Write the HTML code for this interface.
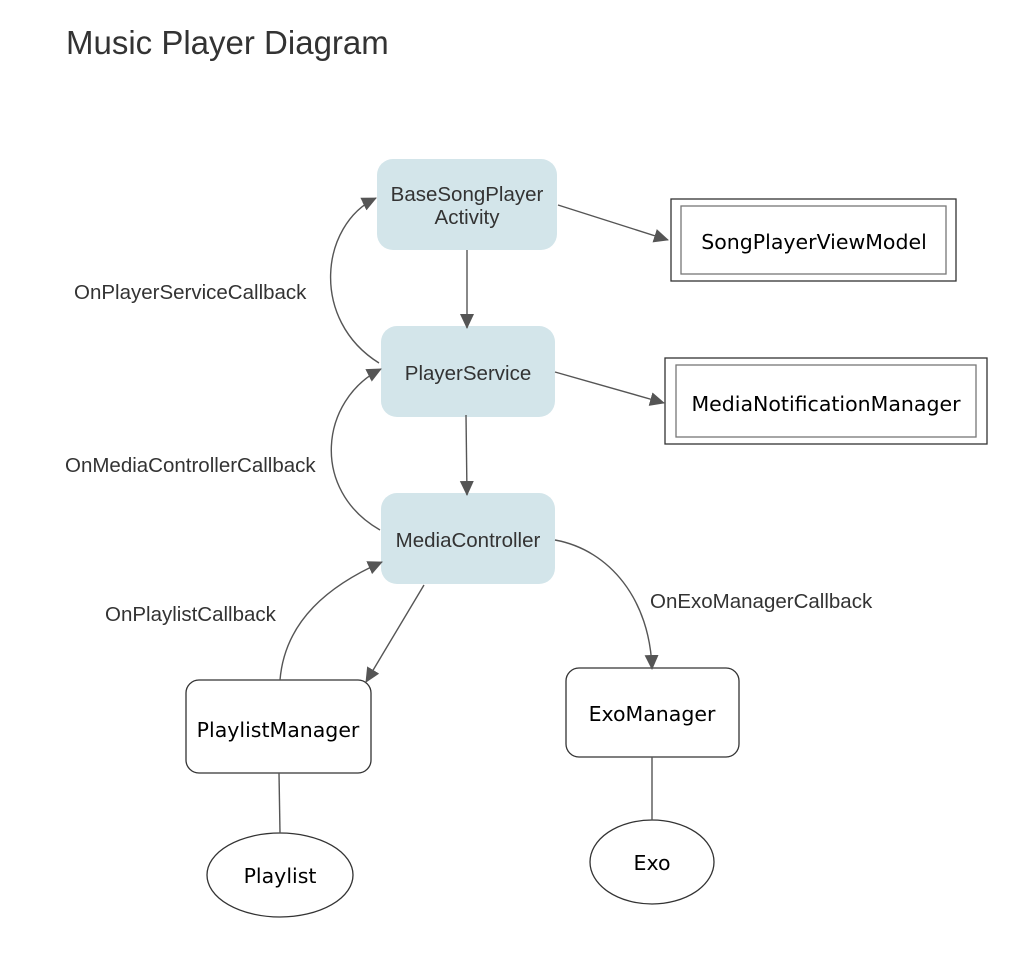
<!DOCTYPE html>
<html><head><meta charset="utf-8"><style>
html,body{margin:0;padding:0;background:#fff;}
svg{display:block}
.b{font-family:"Liberation Sans",sans-serif;font-size:20.5px;fill:#333;}
.v{font-family:"DejaVu Sans",sans-serif;font-size:20.5px;fill:#000;}
</style></head><body>
<svg width="1016" height="978" viewBox="0 0 1016 978">
<defs><marker id="a" markerWidth="16" markerHeight="16" refX="14" refY="7" orient="auto" markerUnits="userSpaceOnUse"><path d="M0,0 L15,7 L0,14 z" fill="#555"/></marker></defs>
<text x="66" y="54" font-family="Liberation Sans,sans-serif" font-size="33" fill="#333">Music Player Diagram</text>

<g fill="#d3e5ea">
<rect x="377" y="159" width="180" height="91" rx="16"/>
<rect x="381" y="326" width="174" height="91" rx="16"/>
<rect x="381" y="493" width="174" height="91" rx="16"/>
</g>
<text class="b" x="467" y="201" text-anchor="middle">BaseSongPlayer</text>
<text class="b" x="467" y="224" text-anchor="middle">Activity</text>
<text class="b" x="468" y="380" text-anchor="middle">PlayerService</text>
<text class="b" x="468" y="547" text-anchor="middle">MediaController</text>

<g fill="none" stroke="#333" stroke-width="1.3">
<rect x="671" y="199" width="285" height="82"/>
<rect x="681" y="206" width="265" height="68" stroke="#777"/>
<rect x="665" y="358" width="322" height="86"/>
<rect x="676" y="365" width="300" height="72" stroke="#777"/>
<rect x="186" y="680" width="185" height="93" rx="13"/>
<rect x="566" y="668" width="173" height="89" rx="13"/>
<ellipse cx="280" cy="875" rx="73" ry="42"/>
<ellipse cx="652" cy="862" rx="62" ry="42"/>
</g>
<text class="v" x="814" y="249" text-anchor="middle">SongPlayerViewModel</text>
<text class="v" x="826" y="411" text-anchor="middle">MediaNotificationManager</text>
<text class="v" x="278" y="737" text-anchor="middle">PlaylistManager</text>
<text class="v" x="652" y="721" text-anchor="middle">ExoManager</text>
<text class="v" x="280" y="883" text-anchor="middle">Playlist</text>
<text class="v" x="652" y="870" text-anchor="middle">Exo</text>

<g fill="none" stroke="#555" stroke-width="1.4" marker-end="url(#a)">
<path d="M558,205 L668,240"/>
<path d="M555,372 L664,403"/>
<path d="M467,250 L467,328"/>
<path d="M466,415 L467,495"/>
<path d="M379,363 C310,320 320,225 376,198"/>
<path d="M380,530 C310,490 320,400 381,369"/>
<path d="M280,680 C285,620 330,585 382,562"/>
<path d="M424,585 L366,682"/>
<path d="M555,540 C610,550 650,600 652,669"/>
</g>
<g stroke="#555" stroke-width="1.4">
<line x1="279" y1="773" x2="280" y2="833"/>
<line x1="652" y1="757" x2="652" y2="820"/>
</g>
<text class="b" x="74" y="299">OnPlayerServiceCallback</text>
<text class="b" x="65" y="472">OnMediaControllerCallback</text>
<text class="b" x="105" y="621">OnPlaylistCallback</text>
<text class="b" x="650" y="608">OnExoManagerCallback</text>
</svg>
</body></html>
